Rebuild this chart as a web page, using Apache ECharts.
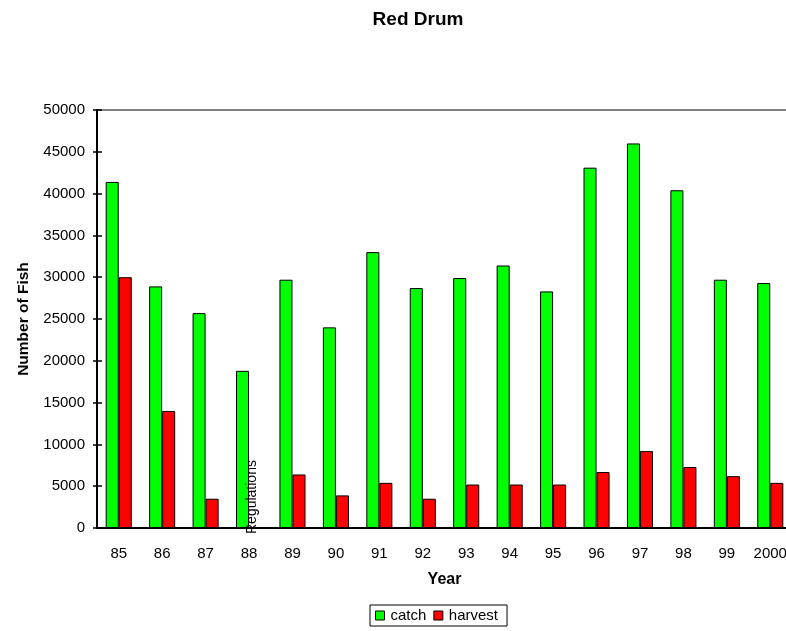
<!DOCTYPE html>
<html>
<head>
<meta charset="utf-8">
<script src="https://cdn.jsdelivr.net/npm/echarts@6/dist/echarts.min.js"></script>
<style>
  html, body { margin: 0; padding: 0; background: #fff; }
  #chart { width: 786px; height: 631px; }
</style>
</head>
<body>
<div id="chart"></div>
<script>
// Red drum catch and harvest counts by year
const years = ['85', '86', '87', '88', '89', '90', '91', '92', '93', '94', '95', '96', '97', '98', '99', '2000'];
const catchCounts = [41400, 28900, 25700, 18800, 29700, 24000, 33000, 28700, 29900, 31400, 28300, 43100, 46000, 40400, 29700, 29300];
const harvestCounts = [30000, 14000, 3500, 0, 6400, 3900, 5400, 3500, 5200, 5200, 5200, 6700, 9200, 7300, 6200, 5400];
const yTicks = { min: 0, max: 50000, interval: 5000 };
const noteYear = '88';
const noteText = 'Regulations';

const font = 'Liberation Sans, Arial, sans-serif';
const chart = echarts.init(document.getElementById('chart'), null, { renderer: 'canvas' });

chart.setOption({
  animation: false,
  backgroundColor: '#ffffff',
  title: {
    text: 'Red Drum',
    left: 413,
    top: 5,
    textAlign: 'center',
    textStyle: { fontFamily: font, fontSize: 19, fontWeight: 'bold', color: '#000' }
  },
  legend: {
    data: ['catch', 'harvest'],
    left: 370,
    top: 605,
    orient: 'horizontal',
    itemWidth: 9,
    itemHeight: 9,
    itemGap: 7,
    padding: [3, 9, 3, 5],
    borderColor: '#000',
    borderWidth: 1,
    icon: 'rect',
    itemStyle: { borderColor: '#000', borderWidth: 1 },
    textStyle: { fontFamily: font, fontSize: 15, color: '#000', padding: [0, 0, 0, 1] }
  },
  grid: {
    left: 97,
    top: 110,
    width: 695,
    bottom: 103,
    outerBoundsMode: 'none',
    containLabel: false,
    show: true,
    borderColor: '#000',
    borderWidth: 1,
    backgroundColor: '#fff'
  },
  xAxis: {
    type: 'category',
    data: years,
    name: 'Year',
    nameLocation: 'middle',
    nameGap: 44,
    nameTextStyle: { fontFamily: font, fontSize: 16, fontWeight: 'bold', color: '#000' },
    axisLine: { lineStyle: { color: '#000', width: 2 } },
    axisTick: { show: false },
    axisLabel: { interval: 0, fontFamily: font, fontSize: 15, color: '#000', margin: 18 },
    splitLine: { show: false }
  },
  yAxis: [
    {
      type: 'value',
      min: yTicks.min,
      max: yTicks.max,
      interval: yTicks.interval,
      name: 'Number of Fish',
      nameLocation: 'middle',
      nameGap: 65,
      nameTextStyle: { fontFamily: font, fontSize: 15.5, fontWeight: 'bold', color: '#000' },
      axisLine: { show: true, lineStyle: { color: '#000', width: 2 } },
      axisTick: { show: true, length: 4, lineStyle: { color: '#000', width: 1.5 } },
      axisLabel: { fontFamily: font, fontSize: 15, color: '#000', margin: 12, formatter: v => String(v) },
      splitLine: { show: false }
    },
    {
      type: 'value',
      position: 'left',
      min: yTicks.min,
      max: yTicks.max,
      interval: yTicks.interval,
      axisLine: { show: false },
      axisTick: { show: true, inside: true, length: 5, lineStyle: { color: '#000', width: 1.5 } },
      axisLabel: { show: false },
      splitLine: { show: false }
    }
  ],
  series: [
    {
      name: 'catch',
      type: 'bar',
      data: catchCounts,
      barGap: '0%',
      barCategoryGap: '40%',
      itemStyle: { color: '#00ff00', borderColor: '#000', borderWidth: 1 },
      markPoint: {
        symbol: 'circle',
        symbolSize: 0,
        data: [{ coord: [noteYear, 0], value: 0 }],
        label: {
          show: true,
          formatter: noteText,
          rotate: 90,
          align: 'left',
          verticalAlign: 'middle',
          offset: [-6, 9.5],
          fontFamily: font,
          fontSize: 14,
          color: '#000'
        }
      }
    },
    {
      name: 'harvest',
      type: 'bar',
      data: harvestCounts,
      itemStyle: { color: '#ff0000', borderColor: '#000', borderWidth: 1 }
    }
  ]
});
</script>
</body>
</html>
